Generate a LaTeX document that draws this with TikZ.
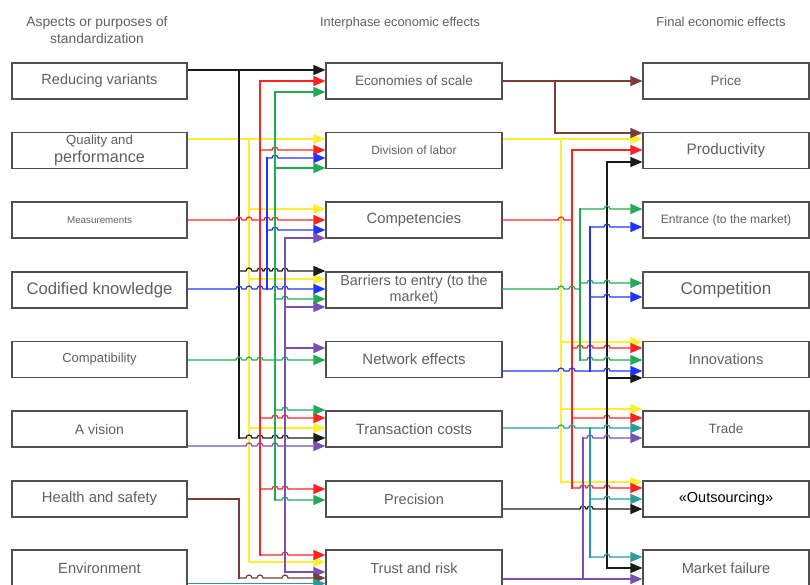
\documentclass[tikz,border=0pt]{standalone}
\usepackage{fontspec}
\setmainfont{Liberation Sans}
\usetikzlibrary{arrows.meta,calc}
\definecolor{cK}{HTML}{1A1A1A}
\definecolor{cY}{HTML}{FFEE33}
\definecolor{cR}{HTML}{FF2222}
\definecolor{cB}{HTML}{2233FF}
\definecolor{cG}{HTML}{22AA55}
\definecolor{cP}{HTML}{7B4FB5}
\definecolor{cBr}{HTML}{7A3B3B}
\definecolor{cT}{HTML}{2A9D9A}
\definecolor{boxgray}{HTML}{505050}
\definecolor{txtgray}{HTML}{606060}
\tikzset{
  box/.style={draw=boxgray, line width=1.2pt, fill=white, minimum height=36pt, inner sep=0pt, text=txtgray, align=center},
  lbox/.style={box, minimum width=175pt},
  mbox/.style={box, minimum width=176pt},
  rbox/.style={box, minimum width=166pt},
  head/.style={text=txtgray, align=center, inner sep=0pt},
  con/.style={line width=1.2pt, -{Triangle[length=12pt,width=10pt]}},
  bus/.style={line width=1.2pt, line cap=rect},
}
\newcommand\hopto[5]{\draw[con,#1] (#2) \foreach \hx in {#4}{ -- (\hx-3,#3) arc[start angle=180,end angle=0,radius=3pt]} -- (#5);}
\newcommand\lnto[3]{\draw[con,#1] (#2) -- (#3);}
\begin{document}
\begin{tikzpicture}[x=1pt,y=-1pt]
\useasboundingbox (0,0) rectangle (810,585);
% headings
\node[head, font=\fontsize{13.8}{17}\selectfont] (h1) at (97,30.5) {Aspects or purposes of\\standardization};
\node[head, font=\fontsize{12.8}{15}\selectfont] (h2) at (400,23) {Interphase economic effects};
\node[head, font=\fontsize{13}{15}\selectfont] (h3) at (721,22) {Final economic effects};
% left boxes
\node[lbox, font=\fontsize{14.5}{17}\selectfont] (L1) at (99.5,81) {Reducing variants};
\node[lbox, font=\fontsize{13.2}{18}\selectfont] (L2) at (99.5,150.5) {Quality and\\{\fontsize{16.2}{17}\selectfont performance}};
\node[lbox, font=\fontsize{9.8}{12}\selectfont] (L3) at (99.5,220) {Measurements};
\node[lbox, font=\fontsize{16.7}{20}\selectfont] (L4) at (99.5,290) {Codified knowledge};
\node[lbox, font=\fontsize{13}{16}\selectfont] (L5) at (99.5,359.5) {Compatibility};
\node[lbox, font=\fontsize{14}{17}\selectfont] (L6) at (99.5,429) {A vision};
\node[lbox, font=\fontsize{14.8}{17}\selectfont] (L7) at (99.5,499) {Health and safety};
\node[lbox, font=\fontsize{14.7}{17}\selectfont] (L8) at (99.5,568) {Environment};
% middle boxes
\node[mbox, font=\fontsize{13.6}{16}\selectfont] (M1) at (414,81) {Economies of scale};
\node[mbox, font=\fontsize{12}{14}\selectfont] (M2) at (414,150.5) {Division of labor};
\node[mbox, font=\fontsize{14.8}{17}\selectfont] (M3) at (414,220) {Competencies};
\node[mbox, font=\fontsize{14.4}{16}\selectfont] (M4) at (414,290) {Barriers to entry (to the\\market)};
\node[mbox, font=\fontsize{15}{17}\selectfont] (M5) at (414,359.5) {Network effects};
\node[mbox, font=\fontsize{14.9}{17}\selectfont] (M6) at (414,429) {Transaction costs};
\node[mbox, font=\fontsize{14.5}{17}\selectfont] (M7) at (414,499) {Precision};
\node[mbox, font=\fontsize{14.5}{17}\selectfont] (M8) at (414,568) {Trust and risk};
% right boxes
\node[rbox, font=\fontsize{13.5}{16}\selectfont] (R1) at (726,81) {Price};
\node[rbox, font=\fontsize{15.2}{18}\selectfont] (R2) at (726,150.5) {Productivity};
\node[rbox, font=\fontsize{12.1}{14}\selectfont] (R3) at (726,220) {Entrance (to the market)};
\node[rbox, font=\fontsize{17}{20}\selectfont] (R4) at (726,290) {Competition};
\node[rbox, font=\fontsize{14.6}{17}\selectfont] (R5) at (726,359.5) {Innovations};
\node[rbox, font=\fontsize{13.5}{16}\selectfont] (R6) at (726,429) {Trade};
\node[rbox, font=\fontsize{14.5}{17}\selectfont, text=black] (R7) at (726,499) {«Outsourcing»};
\node[rbox, font=\fontsize{14.6}{17}\selectfont] (R8) at (726,568) {Market failure};

% ================= LEFT SIDE =================
% yellow (Quality and performance)
\draw[bus,cY] (249,139) -- (249,562);
\lnto{cY}{L2.east |- 0,139}{M2.west |- 0,139}
\lnto{cY}{249,209}{M3.west |- 0,209}
\lnto{cY}{249,279}{M4.west |- 0,279}
\lnto{cY}{249,428}{M6.west |- 0,428}
\lnto{cY}{249,562}{M8.west |- 0,562}
% black (Reducing variants)
\draw[bus,cK] (239,70) -- (239,438);
\lnto{cK}{L1.east |- 0,70}{M1.west |- 0,70}
\hopto{cK}{239,271}{271}{249,260,267,275,285}{M4.west |- 0,271}
\hopto{cK}{239,438}{438}{249,260,275,285}{M6.west |- 0,438}
% red (Measurements)
\draw[bus,cR] (260,81) -- (260,555);
\hopto{cR}{L3.east |- 0,220}{220}{239,249,267,275}{M3.west |- 0,220}
\lnto{cR}{260,81}{M1.west |- 0,81}
\hopto{cR}{260,150}{150}{275}{M2.west |- 0,150}
\hopto{cR}{260,418}{418}{275,285}{M6.west |- 0,418}
\hopto{cR}{260,489}{489}{275,285}{M7.west |- 0,489}
\hopto{cR}{260,555}{555}{285}{M8.west |- 0,555}
% blue (Codified knowledge)
\draw[bus,cB] (267,158) -- (267,289);
\hopto{cB}{L4.east |- 0,289}{289}{239,249,260,275,285}{M4.west |- 0,289}
\hopto{cB}{267,158}{158}{275}{M2.west |- 0,158}
\hopto{cB}{267,230}{230}{275}{M3.west |- 0,230}
% green (Compatibility)
\draw[bus,cG] (275,92) -- (275,500);
\hopto{cG}{L5.east |- 0,360}{360}{239,249,260,285}{M5.west |- 0,360}
\lnto{cG}{275,92}{M1.west |- 0,92}
\lnto{cG}{275,168}{M2.west |- 0,168}
\hopto{cG}{275,299}{299}{285}{M4.west |- 0,299}
\hopto{cG}{275,410}{410}{285}{M6.west |- 0,410}
\hopto{cG}{275,500}{500}{285}{M7.west |- 0,500}
% purple (A vision)
\draw[bus,cP] (285,238) -- (285,572);
\hopto{cP}{L6.east |- 0,446}{446}{249,260,275}{M6.west |- 0,446}
\lnto{cP}{285,238}{M3.west |- 0,238}
\lnto{cP}{285,307}{M4.west |- 0,307}
\lnto{cP}{285,348}{M5.west |- 0,348}
\lnto{cP}{285,572}{M8.west |- 0,572}
% brown (Health and safety)
\draw[bus,cBr] (L7.east |- 0,499) -- (239,499) -- (239,578);
\hopto{cBr}{239,578}{578}{249,260,285}{M8.west |- 0,578}
% teal (Environment)
\lnto{cT}{L8.east |- 0,583.5}{M8.west |- 0,583.5}

% ================= RIGHT SIDE =================
% yellow (Division of labor)
\draw[bus,cY] (561,139) -- (561,482);
\lnto{cY}{M2.east |- 0,139}{R2.west |- 0,139}
\lnto{cY}{561,342}{R5.west |- 0,342}
\lnto{cY}{561,409}{R6.west |- 0,409}
\lnto{cY}{561,482}{R7.west |- 0,482}
% brown (Economies of scale)
\draw[bus,cBr] (555,81) -- (555,133);
\lnto{cBr}{M1.east |- 0,81}{R1.west |- 0,81}
\lnto{cBr}{555,133}{R2.west |- 0,133}
% red (Competencies)
\draw[bus,cR] (572,150) -- (572,488);
\draw[bus,cR] (M3.east |- 0,220) -- (558,220) arc[start angle=180,end angle=0,radius=3pt] -- (572,220);
\lnto{cR}{572,150}{R2.west |- 0,150}
\hopto{cR}{572,348}{348}{580,590,607}{R5.west |- 0,348}
\hopto{cR}{572,418}{418}{607}{R6.west |- 0,418}
\hopto{cR}{572,488}{488}{583,590,607}{R7.west |- 0,488}
% black (Precision)
\draw[bus,cK] (607,162) -- (607,568);
\hopto{cK}{M7.east |- 0,509}{509}{583,590}{R7.west |- 0,509}
\lnto{cK}{607,162}{R2.west |- 0,162}
\lnto{cK}{607,378}{R5.west |- 0,378}
\lnto{cK}{607,568}{R8.west |- 0,568}
% green (Barriers to entry)
\draw[bus,cG] (580,209) -- (580,360);
\draw[bus,cG] (M4.east |- 0,289) -- (558,289) arc[start angle=180,end angle=0,radius=3pt] -- (569,289) arc[start angle=180,end angle=0,radius=3pt] -- (580,289);
\hopto{cG}{580,209}{209}{607}{R3.west |- 0,209}
\hopto{cG}{580,283}{283}{590,607}{R4.west |- 0,283}
\hopto{cG}{580,360}{360}{590,607}{R5.west |- 0,360}
% blue (Network effects)
\draw[bus,cB] (590,227) -- (590,371);
\hopto{cB}{M5.east |- 0,371}{371}{561,572,607}{R5.west |- 0,371}
\hopto{cB}{590,227}{227}{607}{R3.west |- 0,227}
\hopto{cB}{590,297}{297}{607}{R4.west |- 0,297}
% teal (Transaction costs)
\draw[bus,cT] (590,428) -- (590,557);
\hopto{cT}{M6.east |- 0,428}{428}{561,572,607}{R6.west |- 0,428}
\hopto{cT}{590,499}{499}{607}{R7.west |- 0,499}
\hopto{cT}{590,557}{557}{607}{R8.west |- 0,557}
% purple (Trust and risk)
\draw[bus,cP] (583,438) -- (583,579);
\lnto{cP}{M8.east |- 0,579}{R8.west |- 0,579}
\hopto{cP}{583,438}{438}{590,607}{R6.west |- 0,438}
\end{tikzpicture}
\end{document}
